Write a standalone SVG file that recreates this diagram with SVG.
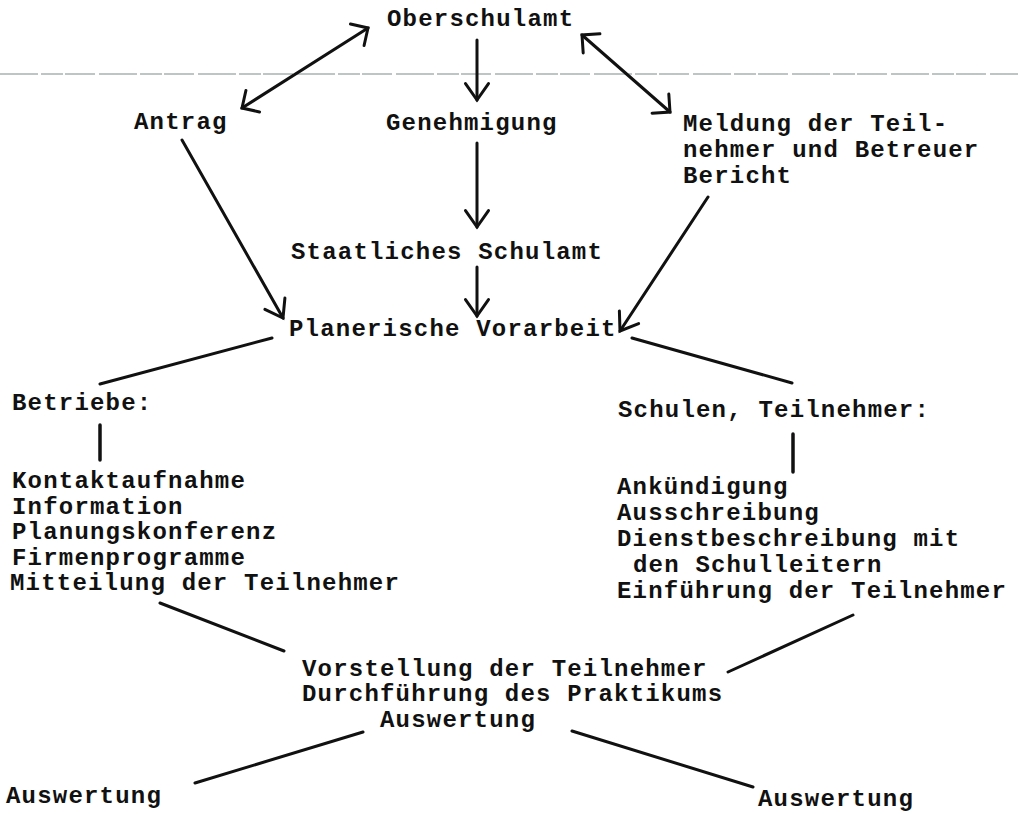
<svg xmlns="http://www.w3.org/2000/svg" width="1018" height="814" viewBox="0 0 1018 814">
  <defs>
    <style>
      text { font-family: "Liberation Mono", "Courier New", monospace; font-size: 24px; letter-spacing: 1.2px; font-weight: bold; fill: #111; }
      .c line { stroke: #111; stroke-width: 3; stroke-linecap: round; fill: none; }
      .bar { stroke-width: 3.5 !important; }
    </style>
    <marker id="ah" viewBox="-20 -14 24 28" refX="0" refY="0" markerWidth="24" markerHeight="28" markerUnits="userSpaceOnUse" orient="auto-start-reverse">
      <path d="M-16.4,-11.5 L0,0 L-16.4,11.5" fill="none" stroke="#111" stroke-width="3" stroke-linecap="round" stroke-linejoin="miter"/>
    </marker>
    <marker id="ahL" viewBox="-18 -16 22 32" refX="0" refY="0" markerWidth="22" markerHeight="32" markerUnits="userSpaceOnUse" orient="auto-start-reverse">
      <path d="M-12.7,-12.7 L0,0 L-12.7,12.7" fill="none" stroke="#111" stroke-width="3" stroke-linecap="round" stroke-linejoin="miter"/>
    </marker>
  </defs>
  <rect width="1018" height="814" fill="#fff"/>
  <line x1="0" y1="74" x2="1018" y2="74" stroke="#a8b3b3" stroke-width="1.5" stroke-dasharray="38 3 22 2 30 4"/>

  <g id="connectors" class="c">
    <line x1="242" y1="108" x2="368" y2="28" marker-start="url(#ahL)" marker-end="url(#ahL)"/>
    <line x1="582" y1="35" x2="670" y2="112" marker-start="url(#ahL)" marker-end="url(#ahL)"/>
    <line x1="477" y1="40" x2="477" y2="100" marker-end="url(#ah)"/>
    <line x1="477" y1="143" x2="477" y2="227" marker-end="url(#ah)"/>
    <line x1="477" y1="267" x2="477" y2="316" marker-end="url(#ah)"/>
    <line x1="182" y1="140" x2="283" y2="318" marker-end="url(#ah)"/>
    <line x1="708" y1="197" x2="620" y2="331" marker-end="url(#ah)"/>
    <line x1="272" y1="338" x2="100" y2="384"/>
    <line x1="632" y1="338" x2="792" y2="383"/>
    <line class="bar" x1="100" y1="425" x2="100" y2="460"/>
    <line class="bar" x1="793" y1="434" x2="793" y2="472"/>
    <line x1="160" y1="603" x2="284" y2="651"/>
    <line x1="853" y1="615" x2="728" y2="672"/>
    <line x1="363" y1="732" x2="195" y2="783"/>
    <line x1="572" y1="731" x2="753" y2="787"/>
  </g>

  <g id="oberschulamt"><text x="387" y="26">Oberschulamt</text></g>
  <g id="antrag"><text x="134" y="129">Antrag</text></g>
  <g id="genehmigung"><text x="386" y="130">Genehmigung</text></g>
  <g id="meldung">
    <text x="683" y="131">Meldung der Teil-</text>
    <text x="683" y="157">nehmer und Betreuer</text>
    <text x="683" y="183">Bericht</text>
  </g>
  <g id="staatliches-schulamt"><text x="291" y="259">Staatliches Schulamt</text></g>
  <g id="planerische-vorarbeit"><text x="289" y="336">Planerische Vorarbeit</text></g>
  <g id="betriebe"><text x="12" y="410">Betriebe:</text></g>
  <g id="betriebe-liste">
    <text x="12" y="488">Kontaktaufnahme</text>
    <text x="12" y="514">Information</text>
    <text x="12" y="539">Planungskonferenz</text>
    <text x="12" y="565">Firmenprogramme</text>
    <text x="10" y="590">Mitteilung der Teilnehmer</text>
  </g>
  <g id="schulen"><text x="618" y="417">Schulen, Teilnehmer:</text></g>
  <g id="schulen-liste">
    <text x="617" y="494">Ankündigung</text>
    <text x="617" y="520">Ausschreibung</text>
    <text x="617" y="546">Dienstbeschreibung mit</text>
    <text x="633" y="572">den Schulleitern</text>
    <text x="617" y="598">Einführung der Teilnehmer</text>
  </g>
  <g id="praktikum">
    <text x="302" y="676">Vorstellung der Teilnehmer</text>
    <text x="302" y="701">Durchführung des Praktikums</text>
    <text x="380" y="727">Auswertung</text>
  </g>
  <g id="auswertung-links"><text x="6" y="803">Auswertung</text></g>
  <g id="auswertung-rechts"><text x="758" y="806">Auswertung</text></g>
</svg>
